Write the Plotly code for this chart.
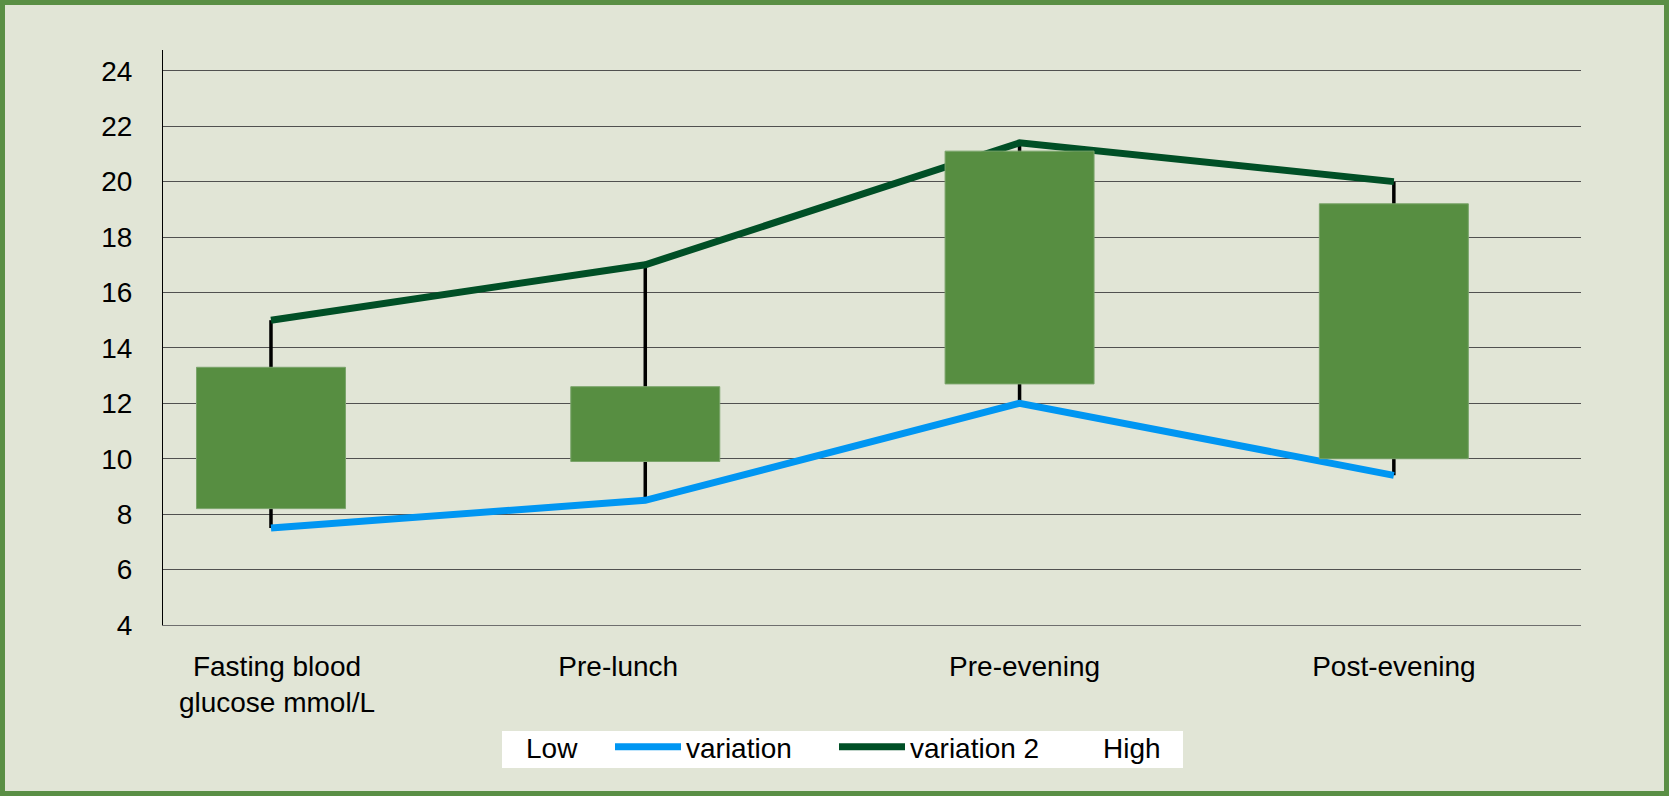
import plotly.graph_objects as go

# ---- data ----
categories = ["Fasting blood<br>glucose mmol/L", "Pre-lunch", "Pre-evening", "Post-evening"]
low = [8.2, 9.9, 12.7, 10.0]          # bottom of up-bar
high = [13.3, 12.6, 21.1, 19.2]       # top of up-bar
variation = [7.5, 8.5, 12.0, 9.4]     # blue line
variation2 = [15.0, 17.0, 21.4, 20.0] # dark green line
y_ticks = [4, 6, 8, 10, 12, 14, 16, 18, 20, 22, 24]

# ---- styling / layout constants ----
W, H = 1669, 796
ML, MR, MT, MB = 163, 88, 50, 171
BG = "#e1e5d6"
BORDER = "#5a8f45"
BAR = "#578e41"
BLUE = "#0096f2"
DKGREEN = "#004f26"
FONT = "Liberation Sans, Arial, sans-serif"
FS = 28
label_nudge_px = [6, -27, 5, 0]        # horizontal nudge of category labels
legend_entry_w = [79, 143, 112, 60]    # legend entry widths (px)
ITEMW = 66

xs = list(range(len(categories)))
XR = [-0.2885, 3.5]
YR = [4, 24.75]
pw = W - ML - MR
ph = H - MT - MB
px_per_x = pw / (XR[1] - XR[0])

fig = go.Figure()

# high-low lines (min to max of all series per category)
wx, wy = [], []
for i in xs:
    vals = [low[i], high[i], variation[i], variation2[i]]
    wx += [i, i, None]
    wy += [min(vals), max(vals), None]
fig.add_trace(go.Scatter(x=wx, y=wy, mode="lines", line=dict(color="black", width=3.5),
                         showlegend=False, hoverinfo="skip"))

# series (Low / High have no visible line)
fig.add_trace(go.Scatter(x=xs, y=low, name="Low", mode="lines",
                         line=dict(color="rgba(0,0,0,0)", width=0),
                         legendrank=1, legendwidth=legend_entry_w[0]))
fig.add_trace(go.Scatter(x=xs, y=variation, name="variation", mode="lines",
                         line=dict(color=BLUE, width=7),
                         legendrank=2, legendwidth=legend_entry_w[1]))
fig.add_trace(go.Scatter(x=xs, y=variation2, name="variation 2", mode="lines",
                         line=dict(color=DKGREEN, width=7),
                         legendrank=3, legendwidth=legend_entry_w[2]))
fig.add_trace(go.Scatter(x=xs, y=high, name="High", mode="lines",
                         line=dict(color="rgba(0,0,0,0)", width=0),
                         legendrank=4, legendwidth=legend_entry_w[3]))

# up bars drawn on an overlaying axis pair so they sit above the lines
fig.add_trace(go.Bar(x=xs, y=[h - l for h, l in zip(high, low)], base=low, width=0.398,
                     marker=dict(color=BAR, line=dict(color="#7aa46a", width=1)),
                     xaxis="x2", yaxis="y2", showlegend=False, hoverinfo="skip"))

label_pos = [i + d / px_per_x for i, d in zip(xs, label_nudge_px)]

fig.update_layout(
    width=W, height=H,
    margin=dict(l=ML, r=MR, t=MT, b=MB, pad=0),
    paper_bgcolor=BG, plot_bgcolor=BG,
    font=dict(family=FONT, size=FS, color="black"),
    showlegend=True,
    legend=dict(orientation="h", x=(450 - ML) / pw, xanchor="left",
                y=(MT + ph - 722) / ph, yanchor="top",
                bgcolor="rgba(0,0,0,0)", borderwidth=0, itemwidth=ITEMW,
                font=dict(family=FONT, size=FS, color="black"),
                itemclick=False),
    xaxis=dict(range=XR, tickmode="array", tickvals=label_pos, ticktext=categories,
               showgrid=False, zeroline=False, showline=True, linecolor="#6e6e6e",
               linewidth=1, ticks="", ticklabelstandoff=16, fixedrange=True),
    yaxis=dict(range=YR, tickmode="array", tickvals=y_ticks,
               showgrid=True, gridcolor="#505050", gridwidth=1, zeroline=False,
               showline=True, linecolor="black", linewidth=1, ticks="",
               ticklabelstandoff=24, fixedrange=True),
    xaxis2=dict(range=XR, overlaying="x", visible=False, fixedrange=True),
    yaxis2=dict(range=YR, overlaying="y", visible=False, fixedrange=True),
    shapes=[
        dict(type="rect", xref="paper", yref="paper",
             x0=(502 - ML) / pw, x1=(1183 - ML) / pw,
             y0=(MT + ph - 768) / ph, y1=(MT + ph - 731) / ph,
             line=dict(width=0), fillcolor="white", layer="above"),
        dict(type="rect", xref="paper", yref="paper",
             x0=-(ML - 2.5) / pw, x1=1 + (MR - 2.5) / pw,
             y0=-(MB - 2.5) / ph, y1=1 + (MT - 2.5) / ph,
             line=dict(color=BORDER, width=5), fillcolor="rgba(0,0,0,0)", layer="above"),
    ],
)

fig.write_html("out.html", config={"displayModeBar": False},
               post_script="document.body.style.margin='0';document.body.style.overflow='hidden';")
